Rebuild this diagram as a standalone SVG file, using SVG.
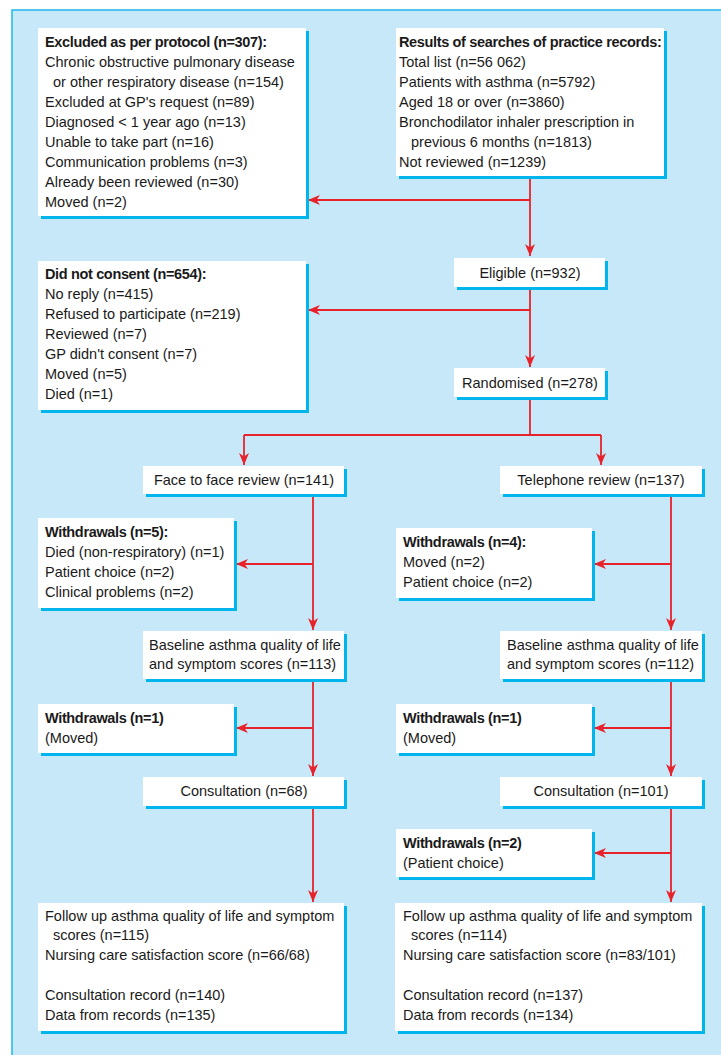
<svg xmlns="http://www.w3.org/2000/svg" width="721" height="1055" viewBox="0 0 721 1055">
<defs>
<style>
.bg{fill:#ffffff}
.panel{fill:#c6e8f8;stroke:#1bb8ec;stroke-width:1.5}
.sh{fill:#00b5ec}
.bx{fill:#ffffff}
text{font-family:"Liberation Sans",Arial,sans-serif;font-size:14.5px;fill:#1a1a1a}
.b{font-weight:bold;letter-spacing:-0.35px}
.c{text-anchor:middle}
.ln{fill:none;stroke:#e8222b;stroke-width:1.8}
</style>
<marker id="ah" markerUnits="userSpaceOnUse" markerWidth="12" markerHeight="10" viewBox="0 0 12 10" refX="12" refY="5" orient="auto">
<path d="M0,0 L12,5 L0,10 L3.5,5 z" fill="#e8222b"/>
</marker>
</defs>
<rect class="bg" x="0" y="0" width="721" height="1055"/>
<rect class="panel" x="12" y="10" width="720" height="1060"/>

<g id="connectors">
<path class="ln" d="M530,176 V256" marker-end="url(#ah)"/>
<path class="ln" d="M530,200 H308" marker-end="url(#ah)"/>
<path class="ln" d="M530,287 V367" marker-end="url(#ah)"/>
<path class="ln" d="M530,310 H308" marker-end="url(#ah)"/>
<path class="ln" d="M530,397 V435 M244,435 H601"/>
<path class="ln" d="M244,435 V465" marker-end="url(#ah)"/>
<path class="ln" d="M601,435 V465" marker-end="url(#ah)"/>
<path class="ln" d="M313,494 V630" marker-end="url(#ah)"/>
<path class="ln" d="M313,564 H236" marker-end="url(#ah)"/>
<path class="ln" d="M671,494 V630" marker-end="url(#ah)"/>
<path class="ln" d="M671,564 H594" marker-end="url(#ah)"/>
<path class="ln" d="M313,679 V776" marker-end="url(#ah)"/>
<path class="ln" d="M313,728 H236" marker-end="url(#ah)"/>
<path class="ln" d="M671,679 V776" marker-end="url(#ah)"/>
<path class="ln" d="M671,728 H594" marker-end="url(#ah)"/>
<path class="ln" d="M313,806 V902" marker-end="url(#ah)"/>
<path class="ln" d="M671,806 V902" marker-end="url(#ah)"/>
<path class="ln" d="M671,853 H594" marker-end="url(#ah)"/>
</g>

<g id="excluded">
<rect class="sh" x="41" y="31" width="268" height="188"/>
<rect class="bx" x="38" y="28" width="268" height="188"/>
<text class="b" x="45" y="47">Excluded as per protocol (n=307):</text>
<text x="45" y="67">Chronic obstructive pulmonary disease</text>
<text x="53" y="87">or other respiratory disease (n=154)</text>
<text x="45" y="107">Excluded at GP's request (n=89)</text>
<text x="45" y="127">Diagnosed &lt; 1 year ago (n=13)</text>
<text x="45" y="147">Unable to take part (n=16)</text>
<text x="45" y="167">Communication problems (n=3)</text>
<text x="45" y="187">Already been reviewed (n=30)</text>
<text x="45" y="207">Moved (n=2)</text>
</g>

<g id="results">
<rect class="sh" x="399" y="31" width="268" height="148"/>
<rect class="bx" x="396" y="28" width="268" height="148"/>
<text class="b" x="399" y="47">Results of searches of practice records:</text>
<text x="399" y="67">Total list (n=56 062)</text>
<text x="399" y="87">Patients with asthma (n=5792)</text>
<text x="399" y="107">Aged 18 or over (n=3860)</text>
<text x="399" y="127">Bronchodilator inhaler prescription in</text>
<text x="411" y="147">previous 6 months (n=1813)</text>
<text x="399" y="167">Not reviewed (n=1239)</text>
</g>

<g id="eligible">
<rect class="sh" x="457" y="261" width="151" height="29"/>
<rect class="bx" x="454" y="258" width="151" height="29"/>
<text class="c" x="530" y="278">Eligible (n=932)</text>
</g>

<g id="notconsent">
<rect class="sh" x="41" y="264" width="268" height="149"/>
<rect class="bx" x="38" y="261" width="268" height="149"/>
<text class="b" x="45" y="279">Did not consent (n=654):</text>
<text x="45" y="299">No reply (n=415)</text>
<text x="45" y="319">Refused to participate (n=219)</text>
<text x="45" y="339">Reviewed (n=7)</text>
<text x="45" y="359">GP didn't consent (n=7)</text>
<text x="45" y="379">Moved (n=5)</text>
<text x="45" y="399">Died (n=1)</text>
</g>

<g id="randomised">
<rect class="sh" x="457" y="371" width="151" height="29"/>
<rect class="bx" x="454" y="368" width="151" height="29"/>
<text class="c" x="530" y="388">Randomised (n=278)</text>
</g>

<g id="face">
<rect class="sh" x="146" y="469" width="201" height="28"/>
<rect class="bx" x="143" y="466" width="201" height="28"/>
<text class="c" x="244" y="485">Face to face review (n=141)</text>
</g>

<g id="telephone">
<rect class="sh" x="503" y="469" width="202" height="28"/>
<rect class="bx" x="500" y="466" width="202" height="28"/>
<text class="c" x="601" y="485">Telephone review (n=137)</text>
</g>

<g id="withdraw5">
<rect class="sh" x="41" y="521" width="196" height="90"/>
<rect class="bx" x="38" y="518" width="196" height="90"/>
<text class="b" x="45" y="537">Withdrawals (n=5):</text>
<text x="45" y="557">Died (non-respiratory) (n=1)</text>
<text x="45" y="577">Patient choice (n=2)</text>
<text x="45" y="597">Clinical problems (n=2)</text>
</g>

<g id="withdraw4">
<rect class="sh" x="399" y="531" width="196" height="70"/>
<rect class="bx" x="396" y="528" width="196" height="70"/>
<text class="b" x="403" y="547">Withdrawals (n=4):</text>
<text x="403" y="567">Moved (n=2)</text>
<text x="403" y="587">Patient choice (n=2)</text>
</g>

<g id="baselineL">
<rect class="sh" x="146" y="634" width="201" height="48"/>
<rect class="bx" x="143" y="631" width="201" height="48"/>
<text x="149" y="650">Baseline asthma quality of life</text>
<text x="149" y="669">and symptom scores (n=113)</text>
</g>

<g id="baselineR">
<rect class="sh" x="503" y="634" width="202" height="48"/>
<rect class="bx" x="500" y="631" width="202" height="48"/>
<text x="507" y="650">Baseline asthma quality of life</text>
<text x="507" y="669">and symptom scores (n=112)</text>
</g>

<g id="withdraw1L">
<rect class="sh" x="41" y="707" width="196" height="49"/>
<rect class="bx" x="38" y="704" width="196" height="49"/>
<text class="b" x="45" y="723">Withdrawals (n=1)</text>
<text x="45" y="743">(Moved)</text>
</g>

<g id="withdraw1R">
<rect class="sh" x="399" y="707" width="196" height="49"/>
<rect class="bx" x="396" y="704" width="196" height="49"/>
<text class="b" x="403" y="723">Withdrawals (n=1)</text>
<text x="403" y="743">(Moved)</text>
</g>

<g id="consultL">
<rect class="sh" x="146" y="780" width="201" height="29"/>
<rect class="bx" x="143" y="777" width="201" height="29"/>
<text class="c" x="244" y="796">Consultation (n=68)</text>
</g>

<g id="consultR">
<rect class="sh" x="503" y="780" width="202" height="29"/>
<rect class="bx" x="500" y="777" width="202" height="29"/>
<text class="c" x="601" y="796">Consultation (n=101)</text>
</g>

<g id="withdraw2">
<rect class="sh" x="399" y="832" width="196" height="48"/>
<rect class="bx" x="396" y="829" width="196" height="48"/>
<text class="b" x="403" y="848">Withdrawals (n=2)</text>
<text x="403" y="868">(Patient choice)</text>
</g>

<g id="followL">
<rect class="sh" x="41" y="906" width="306" height="128"/>
<rect class="bx" x="38" y="903" width="306" height="128"/>
<text x="45" y="921">Follow up asthma quality of life and symptom</text>
<text x="53" y="940">scores (n=115)</text>
<text x="45" y="960">Nursing care satisfaction score (n=66/68)</text>
<text x="45" y="1000">Consultation record (n=140)</text>
<text x="45" y="1020">Data from records (n=135)</text>
</g>

<g id="followR">
<rect class="sh" x="398" y="906" width="307" height="128"/>
<rect class="bx" x="395" y="903" width="307" height="128"/>
<text x="403" y="921">Follow up asthma quality of life and symptom</text>
<text x="411" y="940">scores (n=114)</text>
<text x="403" y="960">Nursing care satisfaction score (n=83/101)</text>
<text x="403" y="1000">Consultation record (n=137)</text>
<text x="403" y="1020">Data from records (n=134)</text>
</g>
</svg>
